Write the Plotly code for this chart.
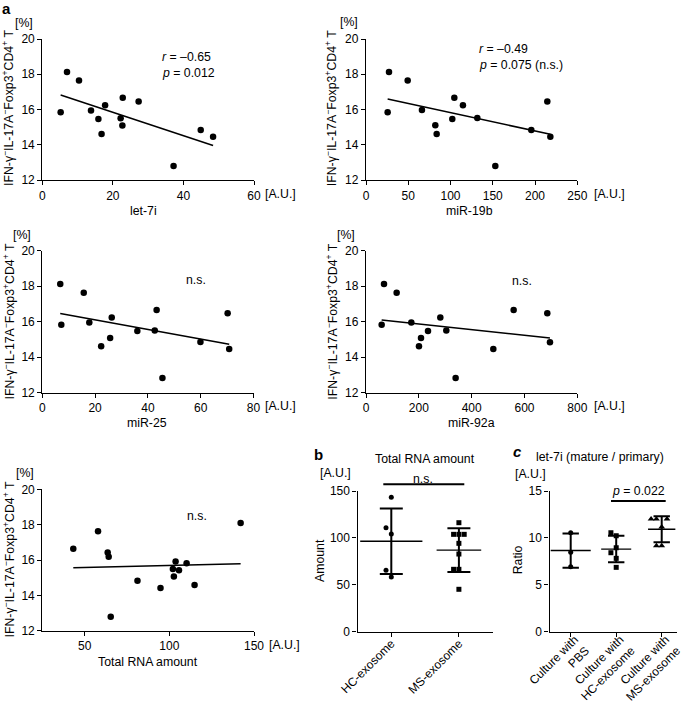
import numpy as np
import plotly.graph_objects as go

W, H = 685, 704
FONT = "Liberation Sans, Arial, Helvetica, sans-serif"

# ---------------- data ----------------
let7i_x = [5.2, 7.0, 10.4, 13.8, 15.9, 16.8, 17.8, 22.2, 22.7, 22.8, 27.3, 37.2, 44.9, 48.4]
let7i_y = [15.84, 18.13, 17.64, 15.95, 15.46, 14.61, 16.24, 15.50, 15.09, 16.67, 16.46, 12.80, 14.84, 14.46]

mir19b_x = [25.6, 27.2, 49.3, 66.2, 82.0, 83.6, 102.1, 104.5, 114.7, 131.7, 153.0, 195.6, 214.5, 218.1]
mir19b_y = [15.84, 18.13, 17.64, 15.97, 15.10, 14.61, 15.46, 16.67, 16.24, 15.52, 12.80, 14.84, 16.46, 14.46]

mir25_x = [6.8, 7.2, 15.7, 17.8, 22.3, 25.7, 26.3, 36.0, 42.6, 43.3, 45.5, 59.9, 70.2, 70.8]
mir25_y = [18.12, 15.83, 17.63, 15.96, 14.61, 15.08, 16.23, 15.47, 15.51, 16.66, 12.83, 14.85, 16.47, 14.46]

mir92a_x = [59.3, 68.1, 116.0, 171.6, 200.6, 208.2, 234.7, 281.4, 304.1, 339.4, 482.0, 559.0, 686.4, 696.5]
mir92a_y = [15.83, 18.12, 17.63, 15.96, 14.61, 15.08, 15.47, 16.23, 15.51, 12.83, 14.46, 16.66, 16.47, 14.84]

totrna_x = [43.3, 57.9, 63.6, 64.2, 65.4, 81.2, 94.8, 102.1, 102.7, 103.7, 105.7, 110.2, 114.9, 142.1]
totrna_y = [16.64, 17.62, 16.43, 16.19, 12.79, 14.83, 14.42, 15.49, 15.06, 15.92, 15.42, 15.81, 14.58, 18.09]

b_groups = ["HC-exosome", "MS-exosome"]
b_hc = [143.3, 110.9, 104.2, 65.5, 58.3]
b_ms = [116.2, 103.8, 103.8, 103.8, 94.2, 82.8, 66.5, 66.5, 45.2]

c_groups = ["Culture with<br>PBS", "Culture with<br>HC-exosome", "Culture with<br>MS-exosome"]
c_pbs = [10.56, 8.46, 6.93]
c_hc = [10.55, 10.23, 8.95, 8.42, 7.82, 6.86]
c_ms = [12.01, 12.01, 12.01, 11.16, 9.17, 9.17]

yticks_a = [12, 14, 16, 18, 20]
ytitle_a = "IFN-γ<sup>−</sup>IL-17A<sup>−</sup>Foxp3<sup>+</sup>CD4<sup>+</sup> T"


# ---------------- helpers ----------------
def dx(x0, x1):
    return [x0 / W, x1 / W]


def dy(top, bottom):
    return [1 - bottom / H, 1 - top / H]


def PX(x):
    return x / W


def PY(y):
    return 1 - y / H


def axis(**kw):
    d = dict(showline=True, linecolor="black", linewidth=1.3, ticks="outside",
             ticklen=4, tickwidth=1.3, tickcolor="black", showgrid=False,
             zeroline=False, fixedrange=True, automargin=False,
             tickfont=dict(family=FONT, size=12, color="black"))
    d.update(kw)
    return d


annotations = []


def ann(text, x, y, size=12.3, xanchor="center", yanchor="middle", angle=0):
    annotations.append(dict(text=text, x=PX(x), y=PY(y), xref="paper", yref="paper",
                            xanchor=xanchor, yanchor=yanchor, textangle=angle,
                            showarrow=False, font=dict(family=FONT, size=size, color="black")))


def swarm(vals, px_per_y, px_per_x, step_px=5.3, min_px=8.5):
    order = np.argsort(vals, kind="stable")
    placed = []
    offs = [0.0] * len(vals)
    for i in order:
        for k in [0, -1, 1, -2, 2, -3, 3]:
            if all(not (kk == k and abs(vals[i] - v) * px_per_y < min_px) for kk, v in placed):
                break
        placed.append((k, vals[i]))
        offs[i] = k * step_px / px_per_x
    return offs


fig = go.Figure()
layout = dict(width=W, height=H, margin=dict(l=0, r=0, t=0, b=0, pad=0),
              template="none", autosize=False,
              paper_bgcolor="white", plot_bgcolor="white", showlegend=False,
              font=dict(family=FONT, size=12, color="black"))

# ---------------- panel a scatter plots ----------------
scatter_panels = [
    # x, y, xrange, xticks, xdomain px, ydomain px
    (let7i_x, let7i_y, [0, 60], [0, 20, 40, 60], (42.3, 254), (39, 180)),
    (mir19b_x, mir19b_y, [0, 250], [0, 50, 100, 150, 200, 250], (366, 577.3), (39, 180)),
    (mir25_x, mir25_y, [0, 80], [0, 20, 40, 60, 80], (42.3, 253.5), (250.7, 392.7)),
    (mir92a_x, mir92a_y, [0, 800], [0, 200, 400, 600, 800], (366, 577.3), (250.7, 392.7)),
    (totrna_x, totrna_y, [25, 150], [50, 100, 150], (42.3, 254), (489.3, 630.7)),
]

for i, (xs, ys, xr, xt, xd, yd) in enumerate(scatter_panels, start=1):
    xa = "x" if i == 1 else f"x{i}"
    ya = "y" if i == 1 else f"y{i}"
    k, b = np.polyfit(xs, ys, 1)
    lx = [min(xs), max(xs)]
    fig.add_trace(go.Scatter(x=lx, y=[k * v + b for v in lx], mode="lines",
                             line=dict(color="black", width=1.5), xaxis=xa, yaxis=ya,
                             cliponaxis=False, hoverinfo="skip"))
    fig.add_trace(go.Scatter(x=xs, y=ys, mode="markers",
                             marker=dict(color="black", size=6.5, symbol="circle"),
                             xaxis=xa, yaxis=ya, cliponaxis=False))
    xkey = "xaxis" if i == 1 else f"xaxis{i}"
    ykey = "yaxis" if i == 1 else f"yaxis{i}"
    layout[xkey] = axis(domain=dx(*xd), range=xr, tickvals=xt, anchor=ya)
    layout[ykey] = axis(domain=dy(*yd), range=[12, 20], tickvals=yticks_a, anchor=xa)

# ---------------- panel b ----------------
bx_ppu, by_ppu = 67.6, 140.7 / 150
b_sets = [b_hc, b_ms]
b_symbols = ["circle", "square"]
b_mean_half = [0.46, 0.33]
for g, vals in enumerate(b_sets):
    offs = swarm(vals, by_ppu, bx_ppu)
    fig.add_trace(go.Scatter(x=[g + o for o in offs], y=vals, mode="markers",
                             marker=dict(color="black", size=5, symbol=b_symbols[g]),
                             xaxis="x6", yaxis="y6", cliponaxis=False))
    m, s = float(np.mean(vals)), float(np.std(vals, ddof=1))
    cap = 0.17
    fig.add_trace(go.Scatter(x=[g, g, None, g - cap, g + cap, None, g - cap, g + cap],
                             y=[m - s, m + s, None, m + s, m + s, None, m - s, m - s],
                             mode="lines", line=dict(color="black", width=2),
                             xaxis="x6", yaxis="y6", cliponaxis=False, hoverinfo="skip"))
    fig.add_trace(go.Scatter(x=[g - b_mean_half[g], g + b_mean_half[g]], y=[m, m],
                             mode="lines", line=dict(color="black", width=1.4),
                             xaxis="x6", yaxis="y6", cliponaxis=False, hoverinfo="skip"))
layout["xaxis6"] = axis(domain=dx(357.5, 492.7), range=[-0.5, 1.5], tickvals=[0, 1],
                        ticktext=b_groups, tickangle=-45, anchor="y6",
                        ticklabelstandoff=-5)
layout["yaxis6"] = axis(domain=dy(491, 631.7), range=[0, 150], tickvals=[0, 50, 100, 150],
                        anchor="x6")

# ---------------- panel c ----------------
cx_ppu, cy_ppu = 45.5, 140.7 / 15
c_sets = [c_pbs, c_hc, c_ms]
c_symbols = ["circle", "square", "triangle-up"]
c_sizes = [5, 5, 6]
c_mean_half = [0.44, 0.33, 0.30]
for g, vals in enumerate(c_sets):
    offs = swarm(vals, cy_ppu, cx_ppu)
    fig.add_trace(go.Scatter(x=[g + o for o in offs], y=vals, mode="markers",
                             marker=dict(color="black", size=c_sizes[g], symbol=c_symbols[g]),
                             xaxis="x7", yaxis="y7", cliponaxis=False))
    m, s = float(np.mean(vals)), float(np.std(vals, ddof=1))
    cap = 0.18
    fig.add_trace(go.Scatter(x=[g, g, None, g - cap, g + cap, None, g - cap, g + cap],
                             y=[m - s, m + s, None, m + s, m + s, None, m - s, m - s],
                             mode="lines", line=dict(color="black", width=2),
                             xaxis="x7", yaxis="y7", cliponaxis=False, hoverinfo="skip"))
    fig.add_trace(go.Scatter(x=[g - c_mean_half[g], g + c_mean_half[g]], y=[m, m],
                             mode="lines", line=dict(color="black", width=1.4),
                             xaxis="x7", yaxis="y7", cliponaxis=False, hoverinfo="skip"))
layout["xaxis7"] = axis(domain=dx(549.5, 677), range=[-0.466, 2.336], tickvals=[0, 1, 2],
                        ticktext=c_groups, tickangle=-45, anchor="y7",
                        ticklabelstandoff=-9, ticklabelshift=4)
layout["yaxis7"] = axis(domain=dy(491, 631.7), range=[0, 15], tickvals=[0, 5, 10, 15],
                        anchor="x7")

# ---------------- text ----------------
# panel letters
annotations.append(dict(text="<b>a</b>", x=PX(0), y=PY(-2), xref="paper", yref="paper",
                        xanchor="left", yanchor="top", showarrow=False,
                        font=dict(family=FONT, size=15, color="black")))
annotations.append(dict(text="<b>b</b>", x=PX(312), y=PY(444), xref="paper", yref="paper",
                        xanchor="left", yanchor="top", showarrow=False,
                        font=dict(family=FONT, size=15, color="black")))
annotations.append(dict(text="<b><i>c</i></b>", x=PX(511), y=PY(441), xref="paper", yref="paper",
                        xanchor="left", yanchor="top", showarrow=False,
                        font=dict(family=FONT, size=15, color="black")))

# y axis titles (panel a)
for x, y in [(8.5, 108.5), (331.7, 108.5), (8.5, 322), (331.7, 322), (8.5, 560)]:
    ann(ytitle_a, x, y, angle=-90)
# [%] units
for x, y in [(24, 23), (349, 22), (22, 235), (346, 235), (25, 473)]:
    ann("[%]", x, y)
# x axis titles
ann("let-7i", 143.3, 210.7)
ann("miR-19b", 469.3, 210.7)
ann("miR-25", 146.7, 423.3)
ann("miR-92a", 471.7, 423.3)
ann("Total RNA amount", 148.3, 662.3)
# [A.U.] after last tick
for x, y in [(263.3, 194), (591.5, 194), (263.3, 405.5), (591.5, 405.5), (266.7, 644.5)]:
    ann("[A.U.]", x, y, xanchor="left")
# statistics text
ann("<i>r</i> = –0.65", 160, 57.3, xanchor="left")
ann("<i>p</i> = 0.012", 160, 72.7, xanchor="left")
ann("<i>r</i> = –0.49", 476.7, 49, xanchor="left")
ann("<i>p</i> = 0.075 (n.s.)", 476.7, 65, xanchor="left")
ann("n.s.", 196.3, 280)
ann("n.s.", 521.7, 280.7)
ann("n.s.", 196.7, 515.7)

# panel b texts
ann("Total RNA amount", 425, 459.3)
ann("[A.U.]", 335, 473.3)
ann("Amount", 320, 561, angle=-90)
ann("n.s.", 423.3, 478.5)
# panel c texts
ann("let-7i (mature / primary)", 600, 456.7)
ann("[A.U.]", 530, 474.3)
ann("Ratio", 518.3, 560, angle=-90)
ann("<i>p</i> = 0.022", 638.3, 491)

shapes = [
    dict(type="line", xref="paper", yref="paper", x0=PX(383.3), x1=PX(464.3),
         y0=PY(484.3), y1=PY(484.3), line=dict(color="black", width=2)),
    dict(type="line", xref="paper", yref="paper", x0=PX(611), x1=PX(665.7),
         y0=PY(501), y1=PY(501), line=dict(color="black", width=2)),
]

layout["annotations"] = annotations
layout["shapes"] = shapes
fig.update_layout(**layout)
fig.write_html("out.html", config={"displayModeBar": False},
               post_script="document.body.style.margin='0';document.body.style.padding='0';"
                           "document.body.style.overflow='hidden';")
